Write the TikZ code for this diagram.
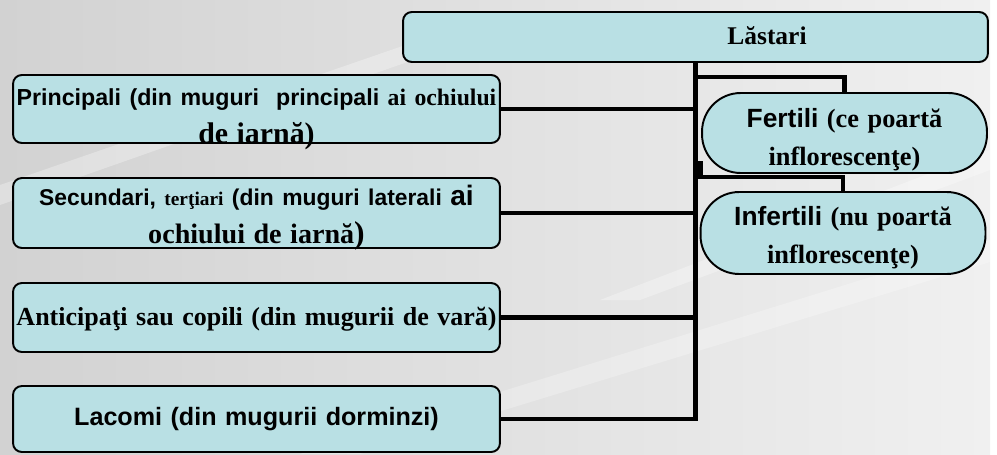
\documentclass[tikz,border=0pt]{standalone}
\usepackage{fontspec}
\setmainfont{Liberation Serif}
\setsansfont{Liberation Sans}
\usetikzlibrary{calc}
\definecolor{boxfill}{RGB}{185,224,228}
\definecolor{bgdark}{RGB}{210,210,210}
\definecolor{bglight}{RGB}{240,240,240}
\newcommand{\fs}[1]{\fontsize{#1}{22}\selectfont}
\tikzset{
  lbox/.style={draw=black,line width=1.1pt,fill=boxfill,rounded corners=5pt,
    minimum width=9.74cm,text width=9.7cm,align=center,
    inner sep=0pt,font=\bfseries\fs{14.5}},
  rbox/.style={lbox,rounded corners=22pt,minimum width=5.7cm,text width=5.4cm},
  conn/.style={line width=2.3pt}
}
\begin{document}
\begin{tikzpicture}[x=0.02cm,y=-0.02cm]
\useasboundingbox (0,0) rectangle (997,454);
%background
\fill[white] (0,0) rectangle (997,454);
\shade[left color=bgdark,right color=bglight] (0,0) rectangle (990,454);
\fill[white,opacity=0.3] (0,185) -- (420,40) -- (470,40) -- (0,205) -- cycle;
\fill[white,opacity=0.3] (600,300) -- (990,150) -- (990,170) -- (640,300) -- cycle;
\fill[white,opacity=0.25] (300,454) -- (990,240) -- (990,262) -- (360,454) -- cycle;

%top box
\node[lbox,minimum width=11.7cm,text width=11.5cm,text height=0.64cm,text depth=0.36cm]
  (lastari) at (695.5,37) {\hspace*{2.86cm}Lăstari};
%left boxes
\node[lbox,text height=0.6cm,text depth=0.76cm] (princ) at (256.5,109)
  {{\sffamily\fs{13.2}Principali (din muguri \ principali} {\fs{13.5}ai ochiului}\\
   {\fs{17}de iarnă)}};
\node[lbox,text height=0.54cm,text depth=0.86cm] (sec) at (256.5,213)
  {{\sffamily\fs{13}Secundari,} {\fs{11}terţiari} {\sffamily\fs{13}(din muguri laterali {\fs{16}ai}}\\
   {\fs{16}ochiului de iarnă{\fs{18})}}};
\node[lbox,text height=0.84cm,text depth=0.54cm] (antic) at (256.5,317.5)
  {\fs{14.8}Anticipaţi sau copili (din mugurii de vară)};
\node[lbox,text height=0.78cm,text depth=0.54cm] (lacomi) at (256.5,419)
  {\sffamily\fs{14.3}Lacomi (din mugurii dorminzi)};
%right boxes
\node[rbox,text height=0.68cm,text depth=0.92cm] (fert) at (844.5,133)
  {{\sffamily\fs{15}Fertili} \fontsize{15}{19.5}\selectfont(ce poartă\\inflorescenţe)};
\node[rbox,text height=0.66cm,text depth=0.98cm] (infert) at (843,233)
  {{\sffamily\fs{15}Infertili} \fontsize{15}{19.5}\selectfont(nu poartă\\inflorescenţe)};

%connectors
\draw[conn] (lastari.south) |- (lacomi.east);
\draw[conn] (princ.east) -- (princ.east -| lastari.south);
\draw[conn] (sec.east) -- (sec.east -| lastari.south);
\draw[conn] (antic.east) -- (antic.east -| lastari.south);
\draw[conn] (fert.north) -- ++(0,-15) -| (lastari.south);
\coordinate (stub) at ($(lastari.south |- fert.south)+(5,-13)$);
\draw[conn] (infert.north) -- ++(0,-14) -| (stub);
\end{tikzpicture}
\end{document}
